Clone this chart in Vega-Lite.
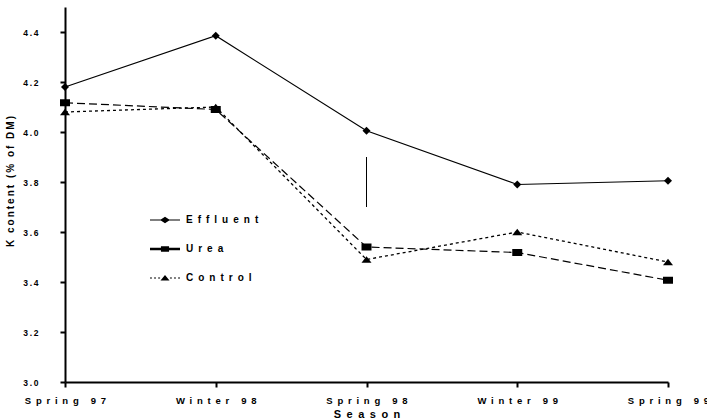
{
  "$schema": "https://vega.github.io/schema/vega-lite/v6.json",
  "width": 603,
  "height": 375,
  "autosize": {"type": "none"},
  "padding": {"left": 65, "top": 7, "right": 39, "bottom": 37},
  "config": {
    "view": {"stroke": null},
    "font": "Liberation Sans",
    "axis": {"domainColor": "black", "tickColor": "black", "domainWidth": 2, "tickWidth": 2, "tickSize": 5, "grid": false, "labelColor": "black", "titleColor": "black", "labelFontWeight": "bold", "titleFontWeight": "bold"}
  },
  "datasets": {
    "k": [
      {"season": "Spring 97", "treatment": "Effluent", "k": 4.18},
      {"season": "Winter 98", "treatment": "Effluent", "k": 4.385},
      {"season": "Spring 98", "treatment": "Effluent", "k": 4.005},
      {"season": "Winter 99", "treatment": "Effluent", "k": 3.79},
      {"season": "Spring 99", "treatment": "Effluent", "k": 3.805},
      {"season": "Spring 97", "treatment": "Urea", "k": 4.117},
      {"season": "Winter 98", "treatment": "Urea", "k": 4.09},
      {"season": "Spring 98", "treatment": "Urea", "k": 3.54},
      {"season": "Winter 99", "treatment": "Urea", "k": 3.518},
      {"season": "Spring 99", "treatment": "Urea", "k": 3.407},
      {"season": "Spring 97", "treatment": "Control", "k": 4.08},
      {"season": "Winter 98", "treatment": "Control", "k": 4.10},
      {"season": "Spring 98", "treatment": "Control", "k": 3.49},
      {"season": "Winter 99", "treatment": "Control", "k": 3.60},
      {"season": "Spring 99", "treatment": "Control", "k": 3.48}
    ],
    "lsd": [
      {"season": "Spring 98", "lo": 3.70, "hi": 3.90}
    ]
  },
  "encoding": {
    "x": {
      "field": "season", "type": "ordinal",
      "sort": ["Spring 97", "Winter 98", "Spring 98", "Winter 99", "Spring 99"],
      "scale": {"type": "point", "padding": 0, "domain": ["Spring 97", "Winter 98", "Spring 98", "Winter 99", "Spring 99"]},
      "axis": {
        "title": "S\u2002e\u2002a\u2002s\u2002o\u2002n",
        "titleFontSize": 11,
        "titleY": 35,
        "titleBaseline": "alphabetic",
        "labelAngle": 0,
        "labelFontSize": 9.5,
        "labelPadding": 8,
        "labelOverlap": false,
        "labelFlush": false,
        "labelBound": false,
        "labelExpr": "join(split(datum.label, ''), '\u2002')"
      }
    },
    "y": {
      "field": "k", "type": "quantitative",
      "scale": {"domain": [3.0, 4.5], "nice": false, "zero": false},
      "axis": {
        "title": "K\u2009 \u2009c\u2009o\u2009n\u2009t\u2009e\u2009n\u2009t\u2009 \u2009(\u2009%\u2009 \u2009o\u2009f\u2009 \u2009D\u2009M\u2009)",
        "titleFontSize": 10,
        "titleX": -55,
        "titleY": 174,
        "titleAlign": "center",
        "titleBaseline": "middle",
        "values": [3.0, 3.2, 3.4, 3.6, 3.8, 4.0, 4.2, 4.4],
        "format": ".1f",
        "labelFontSize": 8.5,
        "labelPadding": 22,
        "labelExpr": "join(split(datum.label, ''), '\u2009')"
      }
    }
  },
  "layer": [
    {
      "data": {"name": "k"},
      "transform": [{"filter": "datum.treatment === 'Effluent'"}],
      "mark": {"type": "line", "color": "black", "strokeWidth": 1.2}
    },
    {
      "data": {"name": "k"},
      "transform": [{"filter": "datum.treatment === 'Urea'"}],
      "mark": {"type": "line", "color": "black", "strokeWidth": 1.2, "strokeDash": [8, 4]}
    },
    {
      "data": {"name": "k"},
      "transform": [{"filter": "datum.treatment === 'Control'"}],
      "mark": {"type": "line", "color": "black", "strokeWidth": 1.3, "strokeDash": [3, 3]}
    },
    {
      "data": {"name": "k"},
      "mark": {"type": "point", "filled": true, "color": "black", "opacity": 1, "size": 100},
      "encoding": {
        "shape": {
          "field": "treatment", "type": "nominal",
          "scale": {"domain": ["Effluent", "Urea", "Control"], "range": ["M-0.8,0L0,-0.8L0.8,0L0,0.8Z", "M-1,-0.7L1,-0.7L1,0.7L-1,0.7Z", "M0,-0.65L1,0.65L-1,0.65Z"]},
          "legend": null
        }
      }
    },
    {
      "data": {"name": "k"},
      "mark": {"type": "point", "filled": true, "color": "black", "size": 0},
      "encoding": {
        "shape": {
          "field": "treatment", "type": "nominal",
          "scale": {"domain": ["Effluent", "Urea", "Control"], "range": [
            "M-1,-0.04L1,-0.04L1,0.04L-1,0.04ZM-0.33,0L0,-0.22L0.33,0L0,0.22Z",
            "M-1,-0.09L1,-0.09L1,0.09L-1,0.09ZM-0.27,-0.18L0.27,-0.18L0.27,0.18L-0.27,0.18Z",
            "M-1,-0.04L-0.87,-0.04L-0.87,0.04L-1,0.04ZM-0.73,-0.04L-0.6,-0.04L-0.6,0.04L-0.73,0.04ZM-0.46,-0.04L-0.33,-0.04L-0.33,0.04L-0.46,0.04ZM0.33,-0.04L0.46,-0.04L0.46,0.04L0.33,0.04ZM0.6,-0.04L0.73,-0.04L0.73,0.04L0.6,0.04ZM0.87,-0.04L1,-0.04L1,0.04L0.87,0.04ZM0,-0.2L0.3,0.17L-0.3,0.17Z"
          ]},
          "legend": {
            "title": null,
            "orient": "none",
            "legendX": 85,
            "legendY": 198,
            "padding": 0,
            "rowPadding": 9,
            "symbolSize": 900,
            "symbolOpacity": 1,
            "symbolFillColor": "black",
            "symbolStrokeWidth": 0,
            "labelOffset": 6,
            "labelFontSize": 10,
            "labelFontWeight": "bold",
            "labelColor": "black",
            "labelExpr": "join(split(datum.label, ''), '\u2002')"
          }
        }
      }
    },
    {
      "data": {"name": "lsd"},
      "mark": {"type": "rule", "color": "black", "strokeWidth": 1},
      "encoding": {
        "y": {"field": "lo", "type": "quantitative"},
        "y2": {"field": "hi"}
      }
    }
  ],
  "resolve": {"scale": {"shape": "independent"}, "legend": {"shape": "independent"}}
}
